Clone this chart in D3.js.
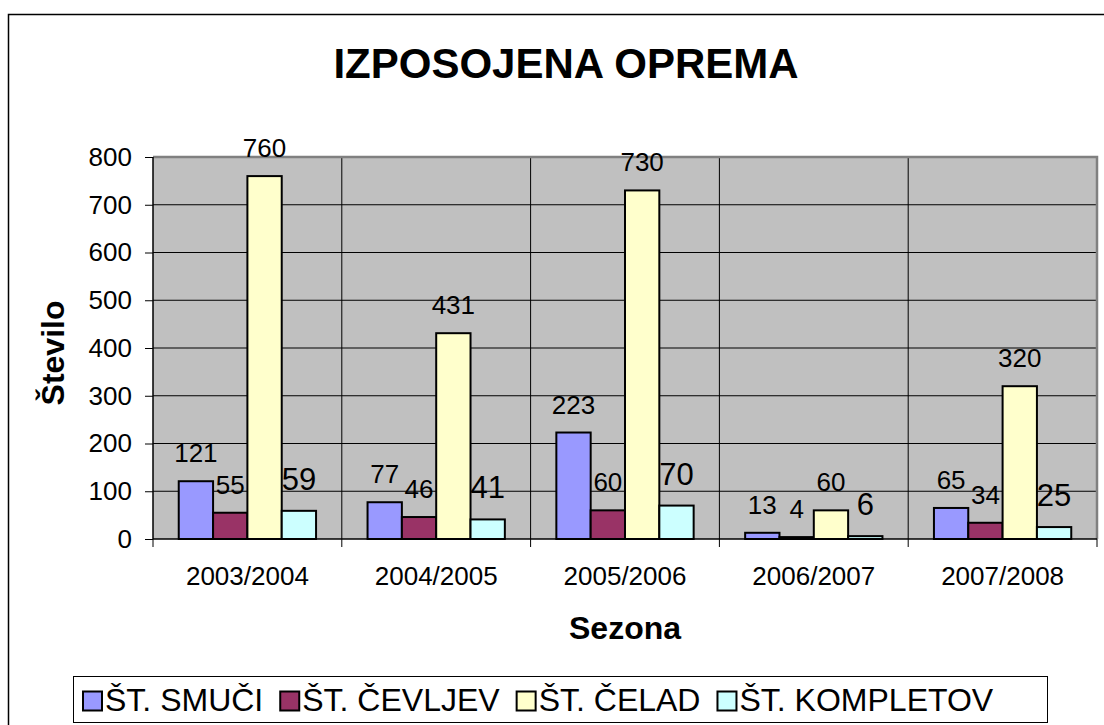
<!DOCTYPE html>
<html>
<head>
<meta charset="utf-8">
<script src="https://cdn.jsdelivr.net/npm/d3@7"></script>
<style>
  body { margin: 0; background: #fff; }
  svg { display: block; font-family: "Liberation Sans", Arial, sans-serif; }
</style>
</head>
<body>
<svg width="1104" height="725"></svg>
<script>
var seasons = ["2003/2004", "2004/2005", "2005/2006", "2006/2007", "2007/2008"];
var smuci = [121, 77, 223, 13, 65];
var cevljev = [55, 46, 60, 4, 34];
var celad = [760, 431, 730, 60, 320];
var kompletov = [59, 41, 70, 6, 25];
var seriesNames = ["ŠT. SMUČI", "ŠT. ČEVLJEV", "ŠT. ČELAD", "ŠT. KOMPLETOV"];
var seriesColors = ["#9999FF", "#993366", "#FFFFCC", "#CCFFFF"];
var yTicks = [0, 100, 200, 300, 400, 500, 600, 700, 800];

var series = [smuci, cevljev, celad, kompletov];
var labelSize = [26, 26, 26, 31];

var svg = d3.select("svg");

var plotLeft = 153, plotRight = 1097, plotTop = 157, plotBottom = 539;

// outer chart border
svg.append("rect")
  .attr("x", 8.5).attr("y", 14.5)
  .attr("width", 1200).attr("height", 800)
  .attr("fill", "#fff")
  .attr("stroke", "#000")
  .attr("stroke-width", 1.5);

var x = d3.scaleBand().domain(seasons).range([plotLeft, plotRight]).padding(0);
var y = d3.scaleLinear().domain([0, 800]).range([plotBottom, plotTop]);

var barW = x.bandwidth() / 5.5;

// plot background
svg.append("rect")
  .attr("x", plotLeft).attr("y", plotTop)
  .attr("width", plotRight - plotLeft).attr("height", plotBottom - plotTop)
  .attr("fill", "#C0C0C0");

// horizontal gridlines
svg.append("g").selectAll("line")
  .data(yTicks.slice(1))
  .enter().append("line")
  .attr("x1", plotLeft).attr("x2", plotRight)
  .attr("y1", function(d) { return y(d); })
  .attr("y2", function(d) { return y(d); })
  .attr("stroke", "#000")
  .attr("stroke-width", 1);

// vertical gridlines at category boundaries
svg.append("g").selectAll("line")
  .data(seasons.slice(1))
  .enter().append("line")
  .attr("x1", function(d) { return x(d); })
  .attr("x2", function(d) { return x(d); })
  .attr("y1", plotTop).attr("y2", plotBottom)
  .attr("stroke", "#000")
  .attr("stroke-width", 1);

// plot border, top and right in grey
svg.append("path")
  .attr("d", "M" + plotLeft + "," + plotTop + "H" + plotRight + "V" + plotBottom)
  .attr("fill", "none")
  .attr("stroke", "#808080")
  .attr("stroke-width", 2.5);

// bars
var groups = svg.append("g").selectAll("g")
  .data(series)
  .enter().append("g")
  .attr("fill", function(d, i) { return seriesColors[i]; });

groups.each(function(vals, si) {
  d3.select(this).selectAll("rect")
    .data(vals)
    .enter().append("rect")
    .attr("x", function(d, i) { return x(seasons[i]) + 0.75 * barW + si * barW; })
    .attr("y", function(d) { return y(d); })
    .attr("width", barW)
    .attr("height", function(d) { return plotBottom - y(d); })
    .attr("stroke", "#000")
    .attr("stroke-width", 2);
});

// data labels
groups.each(function(vals, si) {
  d3.select(this).selectAll("text")
    .data(vals)
    .enter().append("text")
    .attr("x", function(d, i) { return x(seasons[i]) + 0.75 * barW + si * barW + barW / 2; })
    .attr("y", function(d) { return y(d) - (si == 3 ? 21 : 19); })
    .attr("text-anchor", "middle")
    .attr("fill", "#000")
    .style("font-size", labelSize[si] + "px")
    .text(function(d) { return d; });
});

// y axis
var yAxis = d3.axisLeft(y).tickValues(yTicks).tickSize(8).tickPadding(13);
var yg = svg.append("g")
  .attr("transform", "translate(" + plotLeft + ",0)")
  .call(yAxis);
yg.selectAll("text").style("font-size", "26px").attr("fill", "#000");

// x axis
var xAxis = d3.axisBottom(x).tickSize(0).tickPadding(28);
var xg = svg.append("g")
  .attr("transform", "translate(0," + plotBottom + ")")
  .call(xAxis);
xg.selectAll("text").style("font-size", "26px").attr("fill", "#000");
xg.append("g").selectAll("line")
  .data(seasons.concat(["end"]))
  .enter().append("line")
  .attr("x1", function(d, i) { return plotLeft + i * x.bandwidth(); })
  .attr("x2", function(d, i) { return plotLeft + i * x.bandwidth(); })
  .attr("y1", 0).attr("y2", 8)
  .attr("stroke", "#000");

[yg, xg].forEach(function(g) {
  g.select(".domain").attr("stroke", "#000").attr("stroke-width", 1.5);
  g.selectAll(".tick line").attr("stroke", "#000");
});
xg.select(".domain").attr("d", "M" + plotLeft + ",0H" + plotRight);
yg.select(".domain").attr("d", "M0," + plotBottom + "V" + plotTop);

// title
svg.append("text")
  .attr("x", 566).attr("y", 78)
  .attr("text-anchor", "middle")
  .style("font-size", "42px")
  .style("font-weight", "bold")
  .text("IZPOSOJENA OPREMA");

// axis titles
svg.append("text")
  .attr("x", (plotLeft + plotRight) / 2).attr("y", 639)
  .attr("text-anchor", "middle")
  .style("font-size", "32px")
  .style("font-weight", "bold")
  .text("Sezona");

svg.append("text")
  .attr("transform", "translate(64,353) rotate(-90)")
  .attr("text-anchor", "middle")
  .style("font-size", "32px")
  .style("font-weight", "bold")
  .text("Število");

// legend
var legX = 73, legY = 676, legW = 974, legH = 46;
svg.append("rect")
  .attr("x", legX + 0.5).attr("y", legY + 0.5)
  .attr("width", legW).attr("height", legH)
  .attr("fill", "#fff")
  .attr("stroke", "#000")
  .attr("stroke-width", 1);

var legend = svg.append("g");
var items = legend.selectAll("g")
  .data(seriesNames)
  .enter().append("g");

items.append("rect")
  .attr("width", 19).attr("height", 19)
  .attr("y", 691.5)
  .attr("fill", function(d, i) { return seriesColors[i]; })
  .attr("stroke", "#000")
  .attr("stroke-width", 2);

items.append("text")
  .attr("x", 22)
  .attr("y", 711)
  .style("font-size", "32px")
  .text(function(d) { return d; });

var widths = [];
items.each(function() {
  widths.push(22 + d3.select(this).select("text").node().getComputedTextLength());
});
var gapItem = 17;
var startX = 83;
items.attr("transform", function(d, i) {
  var off = startX;
  for (var k = 0; k < i; k++) off += widths[k] + gapItem;
  return "translate(" + off + ",0)";
});
</script>
</body>
</html>
